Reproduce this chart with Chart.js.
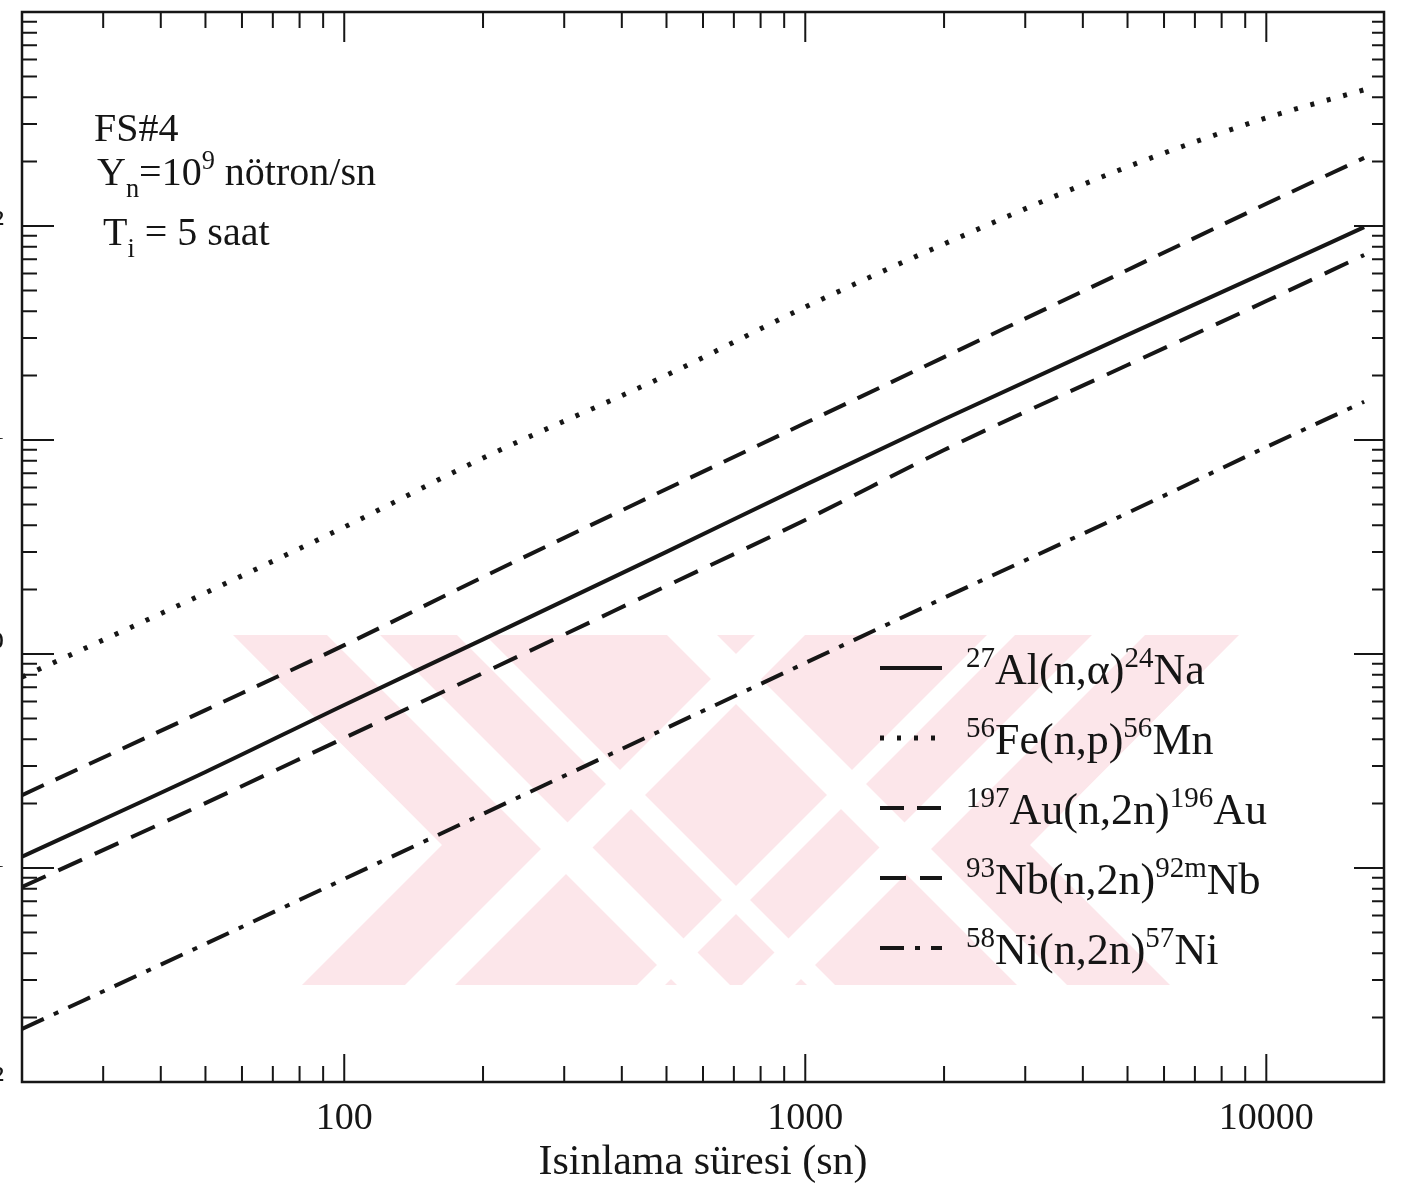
<!DOCTYPE html>
<html>
<head>
<meta charset="utf-8">
<script src="https://cdn.jsdelivr.net/npm/chart.js@4.4.1/dist/chart.umd.min.js"></script>
<style>
  html, body { margin: 0; padding: 0; background: #fff; }
  body { width: 1412px; height: 1190px; position: relative; overflow: hidden;
         font-family: "Liberation Serif", "Times New Roman", serif; color: #151515; }
  #wrap { position: absolute; left: -70px; top: 0; width: 1482px; height: 1190px; }
  .note, .leg { position: absolute; white-space: nowrap; }
  .note { font-size: 40px; line-height: 40px; }
  .leg { left: 966px; font-size: 44px; line-height: 56px; }
  .up { position: relative; vertical-align: 0; font-size: 0.66em; top: -0.6em; }
  .dn { position: relative; vertical-align: 0; font-size: 0.66em; top: 0.45em; }
</style>
</head>
<body>
<div id="wrap"><canvas id="chart" width="1482" height="1190"></canvas></div>

<div class="note" style="left:94px; top:108px;">FS#4</div>
<div class="note" style="left:97px; top:152px;">Y<span class="dn">n</span>=10<span class="up">9</span> nötron/sn</div>
<div class="note" style="left:103px; top:212px;">T<span class="dn">i</span> = 5 saat</div>

<div class="leg" style="top:642px;"><span class="up">27</span>Al(n,α)<span class="up">24</span>Na</div>
<div class="leg" style="top:712px;"><span class="up">56</span>Fe(n,p)<span class="up">56</span>Mn</div>
<div class="leg" style="top:782px;"><span class="up">197</span>Au(n,2n)<span class="up">196</span>Au</div>
<div class="leg" style="top:852px;"><span class="up">93</span>Nb(n,2n)<span class="up">92m</span>Nb</div>
<div class="leg" style="top:922px;"><span class="up">58</span>Ni(n,2n)<span class="up">57</span>Ni</div>

<script>
// irradiation time (s)
const times = [20, 50, 100, 200, 500, 1000, 2000, 5000, 10000, 16300];

// activity, one list per reaction
const alNa = [0.113, 0.281, 0.578, 1.17, 3.0, 6.17, 12.5, 31, 61, 98.8];
const feMn = [0.78, 1.93, 3.92, 8.24, 20.1, 41.8, 82.4, 189, 320, 433];
const auAu = [0.219, 0.547, 1.10, 2.29, 5.90, 12.0, 24.4, 62.3, 127, 208];
const nbNb = [0.0815, 0.201, 0.405, 0.815, 2.08, 4.23, 8.98, 22.4, 44.6, 73.2];
const niNi = [0.0177, 0.0442, 0.0889, 0.179, 0.451, 0.908, 1.83, 4.56, 9.27, 15.1];

const seriesLabels = ["27Al(n,α)24Na", "56Fe(n,p)56Mn", "197Au(n,2n)196Au", "93Nb(n,2n)92mNb", "58Ni(n,2n)57Ni"];

const xTickValues = [100, 1000, 10000];
const xTickLabels = ["100", "1000", "10000"];
const yTickValues = [0.01, 0.1, 1, 10, 100];
const yTickLabels = ["10⁻²", "10⁻¹", "10⁰", "10¹", "10²"];

const ink = "#161616";
const serif = "'Liberation Serif', 'Times New Roman', serif";
const shift = 70; // canvas is moved 70px left of the page

function points(values) {
  return times.map((t, i) => ({ x: t, y: values[i] }));
}

function line(label, values, width, dash) {
  return {
    label: label,
    data: points(values),
    borderColor: ink,
    borderWidth: width,
    borderDash: dash,
    borderCapStyle: "butt",
    pointRadius: 0,
    fill: false,
    cubicInterpolationMode: "monotone",
  };
}

// faint pink archive watermark behind the curves (page coordinates)
const watermark = {
  id: "watermark",
  beforeDatasetsDraw(chart) {
    const ctx = chart.ctx;
    const top = 635, bot = 985;
    const outline = [[233, 635], [1239, 635], [1030, 845], [1170, 985], [302, 985], [442, 845]];
    const backStripes = [[-308, -255], [-178, -150], [32, 82]];   // x - y
    const fwdStripes = [[1390, 1440], [1622, 1650], [1727, 1780]]; // x + y
    ctx.save();
    ctx.translate(shift, 0);
    ctx.beginPath();
    outline.forEach(([px, py], i) => (i ? ctx.lineTo(px, py) : ctx.moveTo(px, py)));
    ctx.closePath();
    ctx.fillStyle = "#fce6ea";
    ctx.fill();
    ctx.clip();
    ctx.fillStyle = "#ffffff";
    backStripes.forEach(([c1, c2]) => {
      ctx.beginPath();
      ctx.moveTo(c1 + top, top); ctx.lineTo(c2 + top, top);
      ctx.lineTo(c2 + bot, bot); ctx.lineTo(c1 + bot, bot);
      ctx.closePath(); ctx.fill();
    });
    fwdStripes.forEach(([s1, s2]) => {
      ctx.beginPath();
      ctx.moveTo(s1 - top, top); ctx.lineTo(s2 - top, top);
      ctx.lineTo(s2 - bot, bot); ctx.lineTo(s1 - bot, bot);
      ctx.closePath(); ctx.fill();
    });
    ctx.restore();
  },
};

// inward ticks on all four sides + frame
const frameTicks = {
  id: "frameTicks",
  afterDatasetsDraw(chart) {
    const { ctx, chartArea: a, scales } = chart;
    const x = scales.x, y = scales.y;
    ctx.save();
    ctx.strokeStyle = ink;
    ctx.lineWidth = 2.5;
    ctx.strokeRect(a.left, a.top, a.right - a.left, a.bottom - a.top);
    ctx.lineWidth = 2;
    ctx.beginPath();
    for (let e = -2; e <= 3; e++) {
      for (let m = 1; m <= 9; m++) {
        const v = m * Math.pow(10, e);
        if (v <= y.min * 1.0001 || v >= y.max * 0.9999) continue;
        const py = y.getPixelForValue(v);
        const major = m === 1;
        ctx.moveTo(a.left, py);
        ctx.lineTo(a.left + (major ? 32 : 15), py);
        ctx.moveTo(a.right, py);
        ctx.lineTo(a.right - (major ? 30 : 12), py);
      }
    }
    for (let e = 1; e <= 4; e++) {
      for (let m = 1; m <= 9; m++) {
        const v = m * Math.pow(10, e);
        if (v <= x.min * 1.0001 || v >= x.max * 0.9999) continue;
        const px = x.getPixelForValue(v);
        const major = m === 1;
        ctx.moveTo(px, a.bottom);
        ctx.lineTo(px, a.bottom - (major ? 28 : 16));
        ctx.moveTo(px, a.top);
        ctx.lineTo(px, a.top + (major ? 30 : 16));
      }
    }
    ctx.stroke();
    ctx.restore();
  },
};

// line samples next to the html legend text
const legendSamples = {
  id: "legendSamples",
  afterDatasetsDraw(chart) {
    const ctx = chart.ctx;
    chart.data.datasets.forEach((ds, i) => {
      const yy = 668 + i * 70;
      ctx.save();
      ctx.strokeStyle = ds.borderColor;
      ctx.lineWidth = ds.borderWidth;
      ctx.setLineDash(ds.borderDash || []);
      ctx.beginPath();
      ctx.moveTo(880 + shift, yy);
      ctx.lineTo(942 + shift, yy);
      ctx.stroke();
      ctx.restore();
    });
  },
};

const chart = new Chart(document.getElementById("chart"), {
  type: "line",
  data: {
    datasets: [
      line(seriesLabels[0], alNa, 4, []),
      line(seriesLabels[1], feMn, 5, [4, 13]),
      line(seriesLabels[2], auAu, 4, [24, 13]),
      line(seriesLabels[3], nbNb, 4, [26, 14]),
      line(seriesLabels[4], niNi, 4, [24, 11, 5, 11]),
    ],
  },
  options: {
    responsive: false,
    animation: false,
    layout: { padding: { top: 12, right: 28, bottom: 0, left: 0 } },
    plugins: {
      legend: { display: false },
      tooltip: { enabled: false },
    },
    scales: {
      x: {
        type: "logarithmic",
        min: 20,
        max: 18000,
        grid: { display: false },
        border: { display: false },
        afterBuildTicks: (s) => { s.ticks = xTickValues.map((v) => ({ value: v })); },
        afterFit: (s) => { s.height = 108; s.paddingLeft = 0; s.paddingRight = 0; },
        ticks: {
          autoSkip: false,
          maxRotation: 0,
          padding: 6,
          color: ink,
          font: { family: serif, size: 38 },
          callback: (v) => xTickLabels[xTickValues.indexOf(v)] || "",
        },
        title: {
          display: true,
          text: "Isinlama süresi (sn)",
          color: ink,
          font: { family: serif, size: 42 },
          padding: { top: 0, bottom: 2 },
        },
      },
      y: {
        type: "logarithmic",
        min: 0.01,
        max: 1000,
        grid: { display: false },
        border: { display: false },
        afterBuildTicks: (s) => { s.ticks = yTickValues.map((v) => ({ value: v })); },
        afterFit: (s) => { s.width = 92; s.paddingTop = 0; s.paddingBottom = 0; },
        ticks: {
          autoSkip: false,
          padding: 10,
          color: ink,
          font: { family: serif, size: 36 },
          callback: (v) => yTickLabels[yTickValues.indexOf(v)] || "",
        },
      },
    },
  },
  plugins: [watermark, frameTicks, legendSamples],
});
</script>
</body>
</html>
